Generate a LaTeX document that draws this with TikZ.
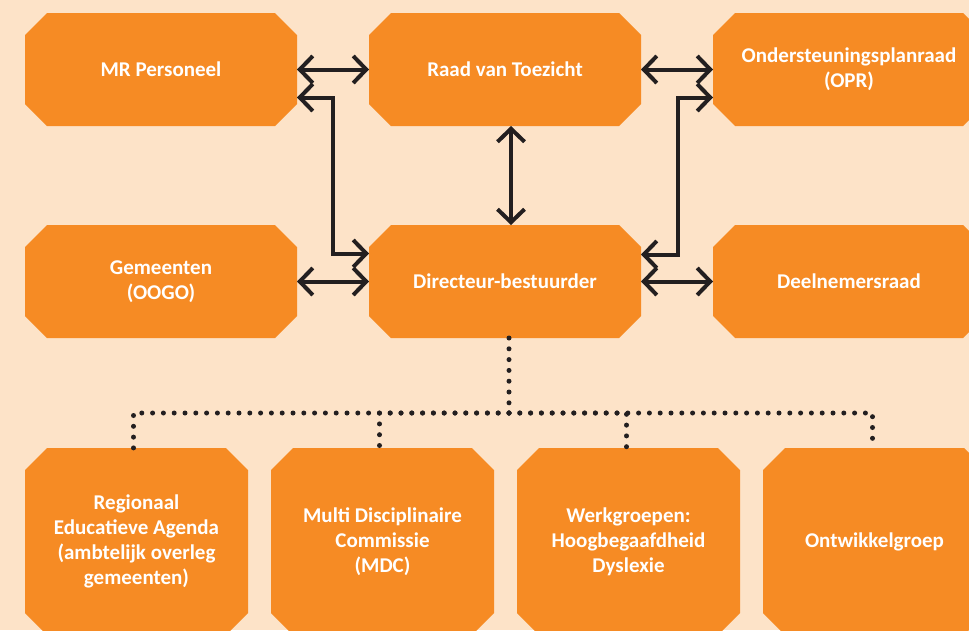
\documentclass[tikz,border=0pt]{standalone}
\usepackage{fontspec}
\setmainfont{Carlito}
\usetikzlibrary{arrows.meta,calc}
\definecolor{bgpeach}{RGB}{253,227,200}
\definecolor{boxorange}{RGB}{246,139,36}
\definecolor{darkline}{RGB}{35,31,32}
\tikzset{
  octbox/.style={rectangle, inner sep=0pt, outer sep=0pt, text=white,
    font=\fontsize{21}{25}\selectfont\bfseries, align=center,
    minimum width=#1,
    path picture={
      \fill[boxorange]
        ($(path picture bounding box.north west)+(22pt,0pt)$) --
        ($(path picture bounding box.north east)+(-22pt,0pt)$) --
        ($(path picture bounding box.north east)+(0pt,-22pt)$) --
        ($(path picture bounding box.south east)+(0pt,22pt)$) --
        ($(path picture bounding box.south east)+(-22pt,0pt)$) --
        ($(path picture bounding box.south west)+(22pt,0pt)$) --
        ($(path picture bounding box.south west)+(0pt,22pt)$) --
        ($(path picture bounding box.north west)+(0pt,-22pt)$) -- cycle;
    }},
  topbox/.style={octbox=272pt, minimum height=113pt},
  lowbox/.style={octbox=223pt, minimum height=187pt},
  arr/.style={draw=darkline, line width=4pt, line join=miter,
    {Straight Barb[length=13pt,width=27pt]}-{Straight Barb[length=13pt,width=27pt]}},
  dots/.style={draw=darkline, line width=5pt, line cap=round, dash pattern=on 0pt off 10.8pt}
}
\begin{document}
\begin{tikzpicture}[x=1pt,y=-1pt]
\useasboundingbox (0,0) rectangle (969,630);
\clip (0,0) rectangle (969,630);
\fill[bgpeach] (0,0) rectangle (969,630);

\node[topbox] (mr)   at (161,69.5) {MR Personeel};
\node[topbox] (raad) at (505,69.5) {Raad van Toezicht};
\node[topbox] (opr)  at (849,69.5) {Ondersteuningsplanraad\\(OPR)};
\node[topbox] (gem)  at (161,281.5) {Gemeenten\\(OOGO)};
\node[topbox] (dir)  at (505,281.5) {Directeur-bestuurder};
\node[topbox] (deel) at (849,281.5) {Deelnemersraad};

\node[lowbox] (rea) at (136.5,541.5) {Regionaal\\Educatieve Agenda\\(ambtelijk overleg\\gemeenten)};
\node[lowbox] (mdc) at (382.5,541.5) {Multi Disciplinaire\\Commissie\\(MDC)};
\node[lowbox] (wg)  at (628.5,541.5) {Werkgroepen:\\Hoogbegaafdheid\\Dyslexie};
\node[lowbox] (ont) at (874.5,541.5) {Ontwikkelgroep};

% solid double arrows
\draw[arr] (mr.east) -- (raad.west);
\draw[arr] (raad.east) -- (opr.west);
\draw[arr] (gem.east) -- (dir.west);
\draw[arr] (dir.east) -- (deel.west);
\draw[arr] ([xshift=6pt]raad.south) -- ([xshift=6pt]dir.north);
\draw[arr] ([yshift=-28pt]mr.east) -- ++(36,0) |- ([yshift=28pt]dir.west);
\draw[arr] ([yshift=-28pt]opr.west) -- ++(-35,0) |- ([yshift=27pt]dir.east);

% dotted hierarchy
\coordinate (hub) at (509,413);
\draw[dots] ([xshift=4pt]dir.south) -- (hub);
\draw[dots] (hub) -| ([xshift=-3pt]rea.north);
\draw[dots] (hub) -| ([xshift=-3pt]mdc.north);
\draw[dots] (hub) -| ([xshift=-2pt]wg.north);
\draw[dots] (hub) -| ([xshift=-2pt]ont.north);
\end{tikzpicture}
\end{document}
